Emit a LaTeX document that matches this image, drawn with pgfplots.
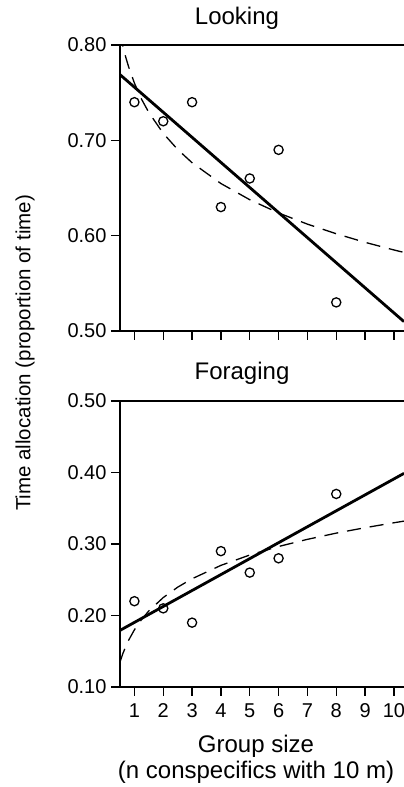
\documentclass[border=0pt]{standalone}
\usepackage{fontspec}
\setmainfont{Liberation Sans}
\usepackage{pgfplots}
\pgfplotsset{compat=1.18}

\pgfplotsset{
  panel/.style={
    scale only axis,
    width=284pt, height=286pt,
    anchor=south west,
    xmin=0.5, xmax=10.35,
    xtick={1,2,3,4,5,6,7,8,9,10},
    axis x line=bottom, axis y line=left,
    axis line style={line width=1.7pt, -},
    tick align=outside,
    major tick length=9pt,
    tick style={line width=1.2pt, black},
    clip=true,
    /pgf/number format/assume math mode=true,
    tick label style={font=\fontsize{20}{22}\selectfont},
    yticklabel style={/pgf/number format/fixed, /pgf/number format/fixed zerofill, /pgf/number format/precision=2, xshift=-1pt},
    xticklabel style={yshift=-4pt},
  },
  pts/.style={only marks, mark=o, mark size=4.6pt, mark options={line width=1.3pt, black}},
  fit/.style={black, line width=2.8pt},
  logfit/.style={black, line width=1.3pt, dash pattern=on 14pt off 9pt},
}

\begin{document}
\begin{tikzpicture}
\path[use as bounding box] (0,0) rectangle (404pt,787pt);

% Looking
\begin{axis}[panel, at={(120pt,456pt)},
  ymin=0.5, ymax=0.8, ytick={0.5,0.6,0.7,0.8},
  xticklabels={}]
\addplot[pts] coordinates {(1,0.74) (2,0.72) (3,0.74) (4,0.63) (5,0.66) (6,0.69) (8,0.53)};
\addplot[fit] coordinates {(0.5,0.7689) (10.35,0.5098)};
\addplot[logfit] coordinates {
  (0.5,0.8127) (0.6,0.7988) (0.7,0.7871) (0.8,0.7770) (1,0.7600) (1.25,0.7430)
  (1.5,0.7292) (2,0.7073) (2.5,0.6904) (3,0.6765) (4,0.6547) (5,0.6377)
  (6,0.6238) (7,0.6121) (8,0.6020) (9,0.5930) (10,0.5850) (10.35,0.5824)};
\draw[line width=1.3pt] (rel axis cs:0,1) -- (rel axis cs:1,1);
\end{axis}

% Foraging
\begin{axis}[panel, at={(120pt,100pt)},
  ymin=0.1, ymax=0.5, ytick={0.1,0.2,0.3,0.4,0.5}]
\addplot[pts] coordinates {(1,0.22) (2,0.21) (3,0.19) (4,0.29) (5,0.26) (6,0.28) (8,0.37)};
\addplot[fit] coordinates {(0.5,0.1792) (10.35,0.3988)};
\addplot[logfit] coordinates {
  (0.5,0.1349) (0.6,0.1468) (0.7,0.1568) (0.8,0.1655) (1,0.1800) (1.25,0.1945)
  (1.5,0.2064) (2,0.2251) (2.5,0.2396) (3,0.2514) (4,0.2701) (5,0.2846)
  (6,0.2965) (7,0.3065) (8,0.3152) (9,0.3228) (10,0.3297) (10.35,0.3320)};
\draw[line width=1.3pt] (rel axis cs:0,1) -- (rel axis cs:1,1);
\end{axis}

\node[anchor=base, font=\fontsize{24}{26}\selectfont] at (237pt,762pt) {Looking};
\node[anchor=base, font=\fontsize{24}{26}\selectfont] at (242pt,407pt) {Foraging};
\node[rotate=90, font=\fontsize{20.5}{24}\selectfont] at (25pt,434pt) {Time allocation (proportion of time)};
\node[anchor=base, font=\fontsize{24}{26}\selectfont] at (256pt,34pt) {Group size};
\node[anchor=base, font=\fontsize{24}{26}\selectfont] at (256pt,9pt) {(n conspecifics with 10 m)};
\end{tikzpicture}
\end{document}
